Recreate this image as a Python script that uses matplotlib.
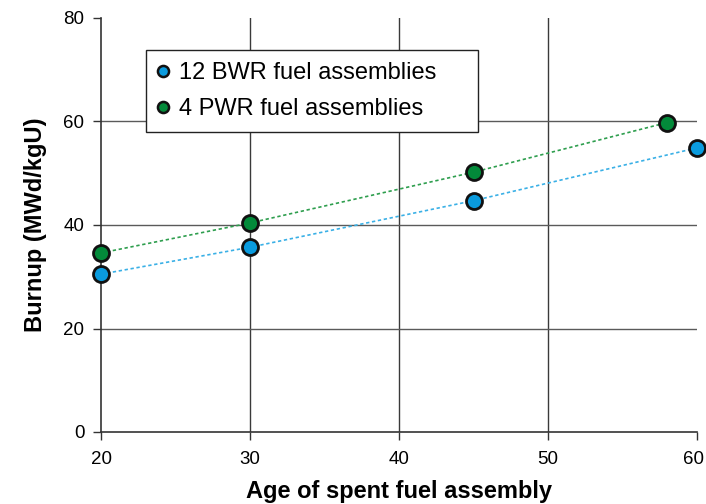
import matplotlib
matplotlib.use("Agg")
import matplotlib.pyplot as plt
import matplotlib.transforms as mtransforms

plt.rcParams['font.family'] = ['Liberation Sans', 'DejaVu Sans']

bwr_age = [20, 30, 45, 60]
bwr_burnup = [30.5, 35.7, 44.7, 54.9]
pwr_age = [20, 30, 45, 58]
pwr_burnup = [34.6, 40.4, 50.2, 59.8]

x_ticks = [20, 30, 40, 50, 60]
y_ticks = [0, 20, 40, 60, 80]

blue = '#0A9BDE'
green = '#038A3A'

fig = plt.figure(figsize=(7.06, 5.04), dpi=100)
ax = fig.add_axes([101/706, 1-432/504, (697-101)/706, (432-18)/504])

ax.plot(bwr_age, bwr_burnup, linestyle=(0, (2, 1.6)), color='#3AB0E6', lw=1.2, zorder=3)
ax.plot(pwr_age, pwr_burnup, linestyle=(0, (2, 1.6)), color='#2E9E4E', lw=1.2, zorder=3)
ax.plot(bwr_age, bwr_burnup, 'o', ms=11.5, mfc=blue, mec='#111111', mew=2, linestyle='none',
        zorder=4, clip_on=False)
ax.plot(pwr_age, pwr_burnup, 'o', ms=11.5, mfc=green, mec='#111111', mew=2, linestyle='none',
        zorder=4, clip_on=False)
# legend proxies (smaller markers as in the reference legend)
ax.plot([], [], 'o', ms=8, mfc=blue, mec='#111111', mew=1.8, linestyle='none',
        label='12 BWR fuel assemblies')
ax.plot([], [], 'o', ms=8, mfc=green, mec='#111111', mew=1.8, linestyle='none',
        label='4 PWR fuel assemblies')

ax.set_xlim(20, 60)
ax.set_ylim(0, 80)
ax.set_xticks(x_ticks)
ax.set_yticks(y_ticks)
for v in x_ticks[1:-1]:
    ax.axvline(v, color='#3a3a3a', lw=1.0, zorder=1)
for v in y_ticks[1:-1]:
    ax.axhline(v, color='#5a5a5a', lw=1.0, zorder=1)

for s in ['top', 'right']:
    ax.spines[s].set_visible(False)
for s in ['left', 'bottom']:
    ax.spines[s].set_color('#333333')
    ax.spines[s].set_linewidth(1.2)

ax.tick_params(axis='both', direction='out', length=6, width=1, color='#333333',
               labelsize=13.5, pad=6)
ax.tick_params(axis='x', pad=8)

# nudge the last x tick label left so it stays inside the figure
last = ax.get_xticklabels()[-1]
last.set_transform(last.get_transform() +
                   mtransforms.ScaledTranslation(-4/100, 0, fig.dpi_scale_trans))

ax.set_xlabel('Age of spent fuel assembly', fontsize=17, fontweight='bold', labelpad=8)
ax.set_ylabel('Burnup (MWd/kgU)', fontsize=17, fontweight='bold', labelpad=12)

W, H = 596, 414
x0 = (146-101)/W
x1 = (478-101)/W
ytop = 1-(50-18)/H
leg = ax.legend(loc='upper left', bbox_to_anchor=(x0, ytop - 0.3, x1 - x0, 0.3),
                mode='expand', fontsize=17, frameon=True, fancybox=False,
                handletextpad=0.5, handlelength=0.4, borderpad=0.5,
                labelspacing=0.6, borderaxespad=0)
leg.get_frame().set_edgecolor('#222222')
leg.get_frame().set_linewidth(1.0)
leg.get_frame().set_alpha(1)
leg.set_zorder(5)

fig.savefig('out.png', dpi=100)
